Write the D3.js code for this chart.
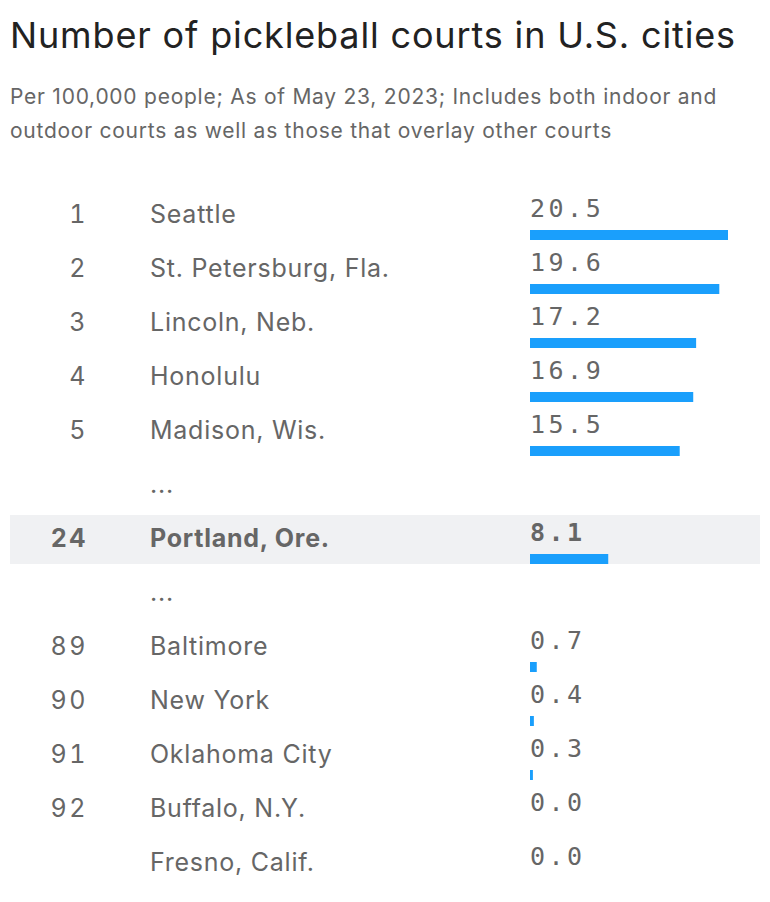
<!DOCTYPE html>
<html>
<head>
<meta charset="utf-8">
<script src="https://cdn.jsdelivr.net/npm/d3@7"></script>
<style>
  body { margin: 0; background: #fff; }
  svg text { font-family: Inter, "Noto Sans", sans-serif; }
</style>
</head>
<body>
<div id="chart"></div>
<script>
const width = 770;
const height = 902;

// rows, in display order; "..." rows are gaps in the ranking
const ranks = ["1", "2", "3", "4", "5", "", "24", "", "89", "90", "91", "92", ""];
const cities = ["Seattle", "St. Petersburg, Fla.", "Lincoln, Neb.", "Honolulu", "Madison, Wis.", "...",
                "Portland, Ore.", "...", "Baltimore", "New York", "Oklahoma City", "Buffalo, N.Y.", "Fresno, Calif."];
const values = [20.5, 19.6, 17.2, 16.9, 15.5, null, 8.1, null, 0.7, 0.4, 0.3, 0.0, 0.0];
const highlighted = "Portland, Ore.";

const rows = cities.map((c, i) => ({ rank: ranks[i], city: c, value: values[i] }));

const svg = d3.select("#chart").append("svg")
    .attr("width", width)
    .attr("height", height);

svg.append("text")
    .attr("x", 10).attr("y", 48)
    .attr("font-size", 36)
    .attr("letter-spacing", 0.85)
    .attr("fill", "#222")
    .text("Number of pickleball courts in U.S. cities");

const sub = ["Per 100,000 people; As of May 23, 2023; Includes both indoor and",
             "outdoor courts as well as those that overlay other courts"];
svg.selectAll(".sub").data(sub).enter().append("text")
    .attr("class", "sub")
    .attr("x", 10).attr("y", (d, i) => 104 + i * 34)
    .attr("font-size", 21)
    .attr("letter-spacing", 0.75)
    .attr("fill", "#666")
    .text(d => d);

const yScale = d3.scaleBand()
    .domain(d3.range(rows.length))
    .range([188, 188 + 54 * rows.length]);

const xScale = d3.scaleLinear()
    .domain([0, 20.5])
    .range([530, 728]);

const g = svg.selectAll(".row").data(rows).enter().append("g")
    .attr("class", "row")
    .attr("transform", (d, i) => "translate(0," + yScale(i) + ")");

g.filter(d => d.city === highlighted).append("rect")
    .attr("x", 10).attr("y", 3)
    .attr("width", 750).attr("height", 49)
    .attr("fill", "#f0f1f3");

g.append("text")
    .attr("x", 88).attr("y", 35)
    .attr("text-anchor", "end")
    .attr("font-size", 25)
    .attr("letter-spacing", 2.5)
    .attr("font-weight", d => d.city === highlighted ? 700 : 400)
    .attr("fill", "#666")
    .style("font-variant-numeric", "tabular-nums")
    .text(d => d.rank);

g.append("text")
    .attr("x", 150).attr("y", 35)
    .attr("font-size", 25)
    .attr("letter-spacing", 0.75)
    .attr("font-weight", d => d.city === highlighted ? 700 : 400)
    .attr("fill", "#666")
    .text(d => d.city);

const vals = g.filter(d => d.value !== null);

vals.append("text")
    .attr("x", 530).attr("y", 29)
    .attr("font-size", 25)
    .attr("letter-spacing", 3.5)
    .attr("font-weight", d => d.city === highlighted ? 700 : 400)
    .attr("fill", "#666")
    .style("font-family", "'DejaVu Sans Mono', monospace")
    .text(d => d.value.toFixed(1));

vals.append("rect")
    .attr("x", xScale(0))
    .attr("y", 42)
    .attr("height", 10)
    .attr("width", d => xScale(d.value) - xScale(0))
    .attr("fill", "#1a9ffc");
</script>
</body>
</html>
